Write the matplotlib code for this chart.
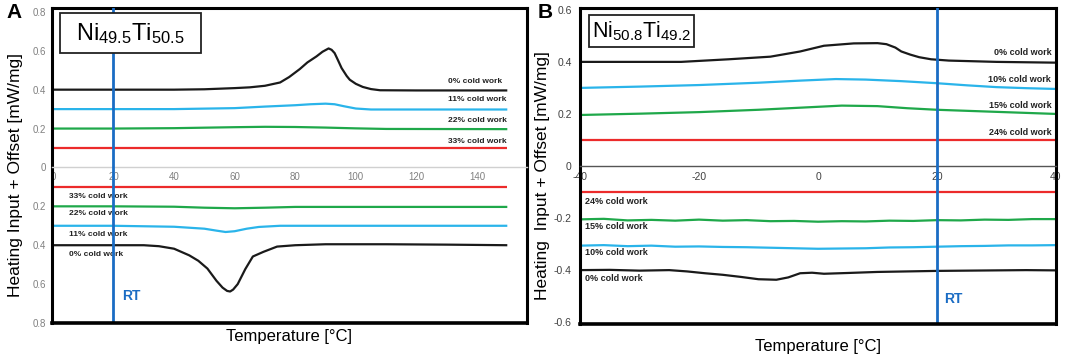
import matplotlib
matplotlib.use("Agg")
import matplotlib.pyplot as plt
from matplotlib.patches import Rectangle

plt.rcParams['font.family'] = ['Liberation Sans', 'DejaVu Sans']
plt.rcParams['mathtext.fontset'] = 'custom'
plt.rcParams['mathtext.rm'] = 'Liberation Sans'
plt.rcParams['mathtext.it'] = 'Liberation Sans'

# ---------------- Panel A data (Ni49.5Ti50.5) ----------------
a_black_heat_T = [0, 20, 40, 50, 60, 65, 70, 75, 78, 81.5, 84, 87, 89, 91, 92, 93, 94, 95.3, 97, 98, 100, 102.3, 105, 108, 120, 150]
a_black_heat = [0.40, 0.40, 0.40, 0.402, 0.408, 0.412, 0.42, 0.437, 0.465, 0.506, 0.54, 0.571, 0.595, 0.612, 0.605, 0.588, 0.555, 0.511, 0.47, 0.451, 0.43, 0.414, 0.403, 0.397, 0.396, 0.396]
a_blue_heat_T = [0, 20, 40, 60, 70, 80, 85, 90, 93, 96, 100, 105, 110, 150]
a_blue_heat = [0.30, 0.30, 0.30, 0.305, 0.313, 0.32, 0.325, 0.328, 0.325, 0.315, 0.303, 0.298, 0.298, 0.298]
a_green_heat_T = [0, 20, 40, 60, 70, 80, 90, 100, 110, 150]
a_green_heat = [0.20, 0.20, 0.202, 0.207, 0.209, 0.208, 0.205, 0.201, 0.198, 0.197]
a_red_heat_T = [0, 150]
a_red_heat = [0.10, 0.10]

a_black_cool_T = [0, 20, 30, 35, 40, 45, 48, 51, 54, 56, 57.5, 58.5, 59.5, 61, 63.5, 66, 69.5, 74, 80, 90, 110, 130, 150]
a_black_cool = [-0.40, -0.40, -0.40, -0.405, -0.418, -0.452, -0.48, -0.52, -0.583, -0.618, -0.635, -0.638, -0.628, -0.60, -0.523, -0.458, -0.434, -0.407, -0.40, -0.395, -0.395, -0.397, -0.40]
a_blue_cool_T = [0, 20, 40, 50, 54, 57, 60, 64, 68, 75, 150]
a_blue_cool = [-0.30, -0.30, -0.305, -0.315, -0.325, -0.332, -0.328, -0.315, -0.306, -0.30, -0.30]
a_green_cool_T = [0, 20, 40, 50, 60, 70, 80, 150]
a_green_cool = [-0.20, -0.20, -0.202, -0.207, -0.21, -0.207, -0.203, -0.203]
a_red_cool_T = [0, 150]
a_red_cool = [-0.10, -0.10]

a_labels_top = ["0% cold work", "11% cold work", "22% cold work", "33% cold work"]
a_labels_bot = ["33% cold work", "22% cold work", "11% cold work", "0% cold work"]
a_xticks = [0, 20, 40, 60, 80, 100, 120, 140]
a_yticks = [-0.8, -0.6, -0.4, -0.2, 0, 0.2, 0.4, 0.6, 0.8]
a_yticklabels = ["0.8", "0.6", "0.4", "0.2", "0", "0.2", "0.4", "0.6", "0.8"]

# ---------------- Panel B data (Ni50.8Ti49.2) ----------------
b_black_heat_T = [-40, -30, -23, -15, -8, -3, 1, 6, 10, 11.5, 13, 14, 15.5, 17, 19, 22, 30, 40]
b_black_heat = [0.40, 0.40, 0.40, 0.41, 0.42, 0.44, 0.462, 0.471, 0.472, 0.468, 0.455, 0.44, 0.428, 0.418, 0.41, 0.405, 0.40, 0.397]
b_blue_heat_T = [-40, -30, -20, -10, -3, 3, 8, 14, 20, 25, 30, 35, 40]
b_blue_heat = [0.30, 0.305, 0.311, 0.32, 0.328, 0.334, 0.332, 0.326, 0.318, 0.31, 0.303, 0.299, 0.296]
b_green_heat_T = [-40, -30, -20, -10, -3, 4, 10, 15, 20, 25, 30, 35, 40]
b_green_heat = [0.196, 0.201, 0.207, 0.216, 0.224, 0.232, 0.23, 0.222, 0.216, 0.212, 0.208, 0.204, 0.2]
b_red_heat_T = [-40, 40]
b_red_heat = [0.10, 0.10]

b_black_cool_T = [-40, -35, -30, -25, -22, -19, -16, -13, -10, -7, -5, -3, -1, 1, 5, 10, 15, 20, 25, 30, 35, 40]
b_black_cool = [-0.40, -0.399, -0.402, -0.40, -0.405, -0.412, -0.418, -0.426, -0.435, -0.437, -0.428, -0.412, -0.41, -0.414, -0.411, -0.407, -0.405, -0.403, -0.402, -0.401, -0.400, -0.401]
b_blue_cool_T = [-40, -36, -32, -28, -24, -20, -16, -12, -8, -4, 0, 4, 8, 12, 16, 20, 24, 28, 32, 36, 40]
b_blue_cool = [-0.306, -0.304, -0.308, -0.306, -0.31, -0.309, -0.311, -0.312, -0.314, -0.316, -0.318, -0.317, -0.316, -0.313, -0.312, -0.31, -0.308, -0.307, -0.305, -0.305, -0.304]
b_green_cool_T = [-40, -36, -32, -28, -24, -20, -16, -12, -8, -4, 0, 4, 8, 12, 16, 20, 24, 28, 32, 36, 40]
b_green_cool = [-0.205, -0.203, -0.209, -0.207, -0.21, -0.206, -0.21, -0.208, -0.212, -0.211, -0.214, -0.212, -0.213, -0.21, -0.211, -0.208, -0.209, -0.206, -0.207, -0.204, -0.204]
b_red_cool_T = [-40, 40]
b_red_cool = [-0.10, -0.10]

b_labels_top = ["0% cold work", "10% cold work", "15% cold work", "24% cold work"]
b_labels_bot = ["24% cold work", "15% cold work", "10% cold work", "0% cold work"]
b_xticks = [-40, -20, 0, 20, 40]
b_yticks = [-0.6, -0.4, -0.2, 0, 0.2, 0.4, 0.6]
b_yticklabels = ["-0.6", "-0.4", "-0.2", "0", "0.2", "0.4", "0.6"]

rt_temp = 20

# ---------------- styles ----------------
BLACK = '#1a1a1a'
BLUE = '#2ab4ea'
GREEN = '#1fa84a'
RED = '#ec2b2b'
RT_COLOR = '#1a6cc4'
LW = 1.6

W, H = 1065, 359
fig = plt.figure(figsize=(W / 100, H / 100), dpi=100)

axA = fig.add_axes([52 / W, 1 - 323 / H, 475 / W, 315 / H])
axB = fig.add_axes([580 / W, 1 - 324 / H, 476 / W, 316 / H])


def frame(ax, zero_color):
    for s in ['left', 'top', 'right']:
        ax.spines[s].set_linewidth(2.2)
        ax.spines[s].set_color('black')
    ax.spines['bottom'].set_position(('data', 0))
    ax.spines['bottom'].set_color(zero_color)
    ax.spines['bottom'].set_linewidth(1.0)
    ax.plot([0, 1], [0, 0], transform=ax.transAxes, color='black', lw=2.6,
            clip_on=False, solid_capstyle='projecting', zorder=5)


# ---- Panel A ----
ax = axA
for T, v, c in [(a_black_heat_T, a_black_heat, BLACK), (a_blue_heat_T, a_blue_heat, BLUE),
                (a_green_heat_T, a_green_heat, GREEN), (a_red_heat_T, a_red_heat, RED),
                (a_black_cool_T, a_black_cool, BLACK), (a_blue_cool_T, a_blue_cool, BLUE),
                (a_green_cool_T, a_green_cool, GREEN), (a_red_cool_T, a_red_cool, RED)]:
    ax.plot(T, v, color=c, lw=LW, solid_capstyle='butt')
ax.axvline(rt_temp, color=RT_COLOR, lw=2.0, zorder=4)
ax.set_xlim(-0.3, 156.5)
ax.set_ylim(-0.79, 0.82)
frame(ax, '#d0d0d0')
ax.set_xticks(a_xticks)
ax.set_yticks(a_yticks)
ax.set_yticklabels(a_yticklabels)
ax.tick_params(axis='both', length=0, labelsize=7, labelcolor='#808080')
ax.tick_params(axis='x', pad=3)
ax.tick_params(axis='y', pad=4)
for lab, y in zip(a_labels_top, [0.441, 0.349, 0.241, 0.133]):
    ax.text(130.4, y, lab, fontsize=6, fontweight='bold', color='#222222', va='center', ha='left')
for lab, y in zip(a_labels_bot, [-0.149, -0.236, -0.344, -0.446]):
    ax.text(5.3, y, lab, fontsize=6, fontweight='bold', color='#222222', va='center', ha='left')
ax.text(23.0, -0.662, 'RT', fontsize=10, fontweight='bold', color=RT_COLOR, va='center', ha='left')
ax.add_patch(Rectangle((0.017, 0.857), 0.297, 0.127, transform=ax.transAxes, fill=True,
                       facecolor='white', edgecolor='#222222', lw=1.3, zorder=6))
ax.text(0.165, 0.918, r'Ni$_{49.5}$Ti$_{50.5}$', transform=ax.transAxes, fontsize=17,
        ha='center', va='center', zorder=7)
ax.set_xlabel('Temperature [°C]', fontsize=12)
ax.xaxis.set_label_coords(0.5, -0.019)
ax.set_ylabel('Heating Input + Offset [mW/mg]', fontsize=12.5)
ax.yaxis.set_label_coords(-0.061, 0.47)

# ---- Panel B ----
ax = axB
for T, v, c in [(b_black_heat_T, b_black_heat, BLACK), (b_blue_heat_T, b_blue_heat, BLUE),
                (b_green_heat_T, b_green_heat, GREEN), (b_red_heat_T, b_red_heat, RED),
                (b_black_cool_T, b_black_cool, BLACK), (b_blue_cool_T, b_blue_cool, BLUE),
                (b_green_cool_T, b_green_cool, GREEN), (b_red_cool_T, b_red_cool, RED)]:
    ax.plot(T, v, color=c, lw=LW, solid_capstyle='butt')
ax.axvline(rt_temp, color=RT_COLOR, lw=2.0, zorder=4)
ax.set_xlim(-40, 40)
ax.set_ylim(-0.607, 0.607)
frame(ax, '#555555')
ax.set_xticks(b_xticks)
ax.set_xticklabels([str(t) for t in b_xticks])
ax.set_yticks(b_yticks)
ax.set_yticklabels(b_yticklabels)
ax.tick_params(axis='both', length=0, labelsize=7.5, labelcolor='#404040')
ax.tick_params(axis='x', pad=4)
ax.tick_params(axis='y', pad=6)
for lab, y in zip(b_labels_top, [0.437, 0.333, 0.234, 0.130]):
    ax.text(39.2, y, lab, fontsize=6.5, fontweight='bold', color='#222222', va='center', ha='right')
for lab, y in zip(b_labels_bot, [-0.138, -0.234, -0.333, -0.433]):
    ax.text(-39.2, y, lab, fontsize=6.5, fontweight='bold', color='#222222', va='center', ha='left')
ax.text(21.2, -0.51, 'RT', fontsize=10, fontweight='bold', color=RT_COLOR, va='center', ha='left')
ax.add_patch(Rectangle((0.019, 0.877), 0.2205, 0.101, transform=ax.transAxes, fill=True,
                       facecolor='white', edgecolor='#222222', lw=1.3, zorder=6))
ax.text(0.129, 0.925, r'Ni$_{50.8}$Ti$_{49.2}$', transform=ax.transAxes, fontsize=15.5,
        ha='center', va='center', zorder=7)
ax.set_xlabel('Temperature [°C]', fontsize=12)
ax.xaxis.set_label_coords(0.5, -0.046)
ax.set_ylabel('Heating  Input + Offset [mW/mg]', fontsize=12.5)
ax.yaxis.set_label_coords(-0.063, 0.47)

fig.text(14 / W, 1 - 13 / H, 'A', fontsize=15, fontweight='bold', ha='center', va='center')
fig.text(545 / W, 1 - 13 / H, 'B', fontsize=15, fontweight='bold', ha='center', va='center')

fig.savefig('out.png', dpi=100)
